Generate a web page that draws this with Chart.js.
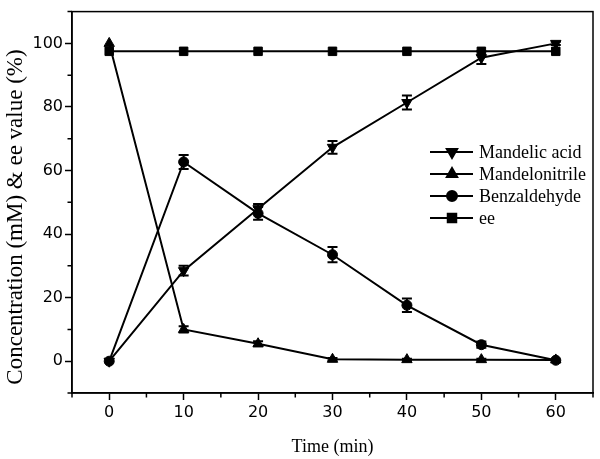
<!DOCTYPE html>
<html>
<head>
<meta charset="utf-8">
<script src="https://cdn.jsdelivr.net/npm/chart.js@4.4.0/dist/chart.umd.min.js"></script>
<style>
html,body{margin:0;padding:0;background:#fff;}
#wrap{width:600px;height:459px;position:relative;}
</style>
</head>
<body>
<div id="wrap"><canvas id="c" width="600" height="459"></canvas></div>
<script>
const times = [0, 10, 20, 30, 40, 50, 60];
const mandelicAcid = [0, 28.5, 48, 67.3, 81.4, 95.5, 100];
const mandelicAcidErr = [0, 1.5, 1.5, 2, 2.2, 2, 0.5];
const mandelonitrile = [100, 10, 5.5, 0.6, 0.5, 0.5, 0.4];
const mandelonitrileErr = [0, 1, 0.8, 0.4, 0.3, 0.3, 0];
const benzaldehyde = [0, 62.7, 46.5, 33.5, 17.6, 5.2, 0.3];
const benzaldehydeErr = [0, 2.2, 2, 2.4, 2.1, 1, 0];
const eeValue = [97.5, 97.5, 97.5, 97.5, 97.5, 97.5, 97.5];
const eeErr = [0, 0, 0, 0, 0, 0, 0];
const seriesNames = ['Mandelic acid', 'Mandelonitrile', 'Benzaldehyde', 'ee'];
const xTicks = [0, 10, 20, 30, 40, 50, 60];
const xMinorTicks = [-5, 5, 15, 25, 35, 45, 55, 65];
const yTicks = [0, 20, 40, 60, 80, 100];
const yMinorTicks = [-10, 10, 30, 50, 70, 90, 110];
const xTitle = 'Time (min)';
const yTitle = 'Concentration (mM) & ee value (%)';

const pts = arr => times.map((t, i) => ({x: t, y: arr[i]}));
const mk = (label, arr, err, style, rot, r) => ({
  label, data: pts(arr), errs: err,
  borderColor: '#000', backgroundColor: '#000', borderWidth: 2,
  pointStyle: style, rotation: rot, pointRadius: r, pointHoverRadius: r,
  pointBorderColor: '#000', pointBackgroundColor: '#000', pointBorderWidth: 1,
  tension: 0, fill: false
});

const datasets = [
  mk(seriesNames[0], mandelicAcid, mandelicAcidErr, 'triangle', 180, 6),
  mk(seriesNames[1], mandelonitrile, mandelonitrileErr, 'triangle', 0, 6),
  mk(seriesNames[2], benzaldehyde, benzaldehydeErr, 'circle', 0, 5),
  mk(seriesNames[3], eeValue, eeErr, 'rect', 0, 6)
];

const extras = {
  id: 'extras',
  afterDatasetsDraw(chart) {
    const ctx = chart.ctx;
    const xs = chart.scales.x, ys = chart.scales.y;
    ctx.save();
    ctx.strokeStyle = '#000';
    ctx.lineWidth = 2;
    chart.data.datasets.forEach(ds => {
      ds.data.forEach((p, i) => {
        const e = ds.errs[i];
        if (!e) return;
        const px = xs.getPixelForValue(p.x);
        const y1 = ys.getPixelForValue(p.y - e), y2 = ys.getPixelForValue(p.y + e);
        ctx.beginPath();
        ctx.moveTo(px, y1); ctx.lineTo(px, y2);
        ctx.moveTo(px - 5, y1); ctx.lineTo(px + 5, y1);
        ctx.moveTo(px - 5, y2); ctx.lineTo(px + 5, y2);
        ctx.stroke();
      });
    });
    const a = chart.chartArea;
    ctx.lineWidth = 1.5;
    ctx.strokeRect(a.left, a.top, a.right - a.left, a.bottom - a.top);
    ctx.beginPath();
    xMinorTicks.forEach(v => {
      const px = xs.getPixelForValue(v);
      ctx.moveTo(px, a.bottom); ctx.lineTo(px, a.bottom + 4.5);
    });
    yMinorTicks.forEach(v => {
      const py = ys.getPixelForValue(v);
      ctx.moveTo(a.left, py); ctx.lineTo(a.left - 4.5, py);
    });
    ctx.stroke();
    // axis titles
    ctx.fillStyle = '#000';
    ctx.textAlign = 'center';
    ctx.textBaseline = 'middle';
    ctx.font = '18px "Liberation Serif", "Times New Roman", serif';
    ctx.fillText(xTitle, (a.left + a.right) / 2, 447);
    ctx.save();
    ctx.translate(16, 217);
    ctx.rotate(-Math.PI / 2);
    ctx.font = '23px "Liberation Serif", "Times New Roman", serif';
    ctx.fillText(yTitle, 0, 0);
    ctx.restore();
    // legend
    const lx = 430, ly = 152, dy = 22;
    ctx.font = '18px "Liberation Serif", "Times New Roman", serif';
    ctx.textAlign = 'left';
    chart.data.datasets.forEach((ds, i) => {
      const y = ly + i * dy;
      ctx.beginPath();
      ctx.lineWidth = 2;
      ctx.moveTo(lx, y); ctx.lineTo(lx + 43, y);
      ctx.stroke();
      Chart.helpers.drawPoint(ctx, {pointStyle: ds.pointStyle, rotation: ds.rotation, radius: ds.pointRadius, borderWidth: 1}, lx + 22, y);
      ctx.fill();
      ctx.fillText(ds.label, lx + 49, y + 1);
    });
    ctx.restore();
  }
};

new Chart(document.getElementById('c'), {
  type: 'line',
  data: { datasets },
  plugins: [extras],
  options: {
    responsive: false,
    animation: false,
    devicePixelRatio: 1,
    layout: { padding: { top: 3, right: 5, left: 0, bottom: 0 } },
    plugins: { legend: { display: false }, tooltip: { enabled: false } },
    scales: {
      x: {
        type: 'linear', min: -5, max: 65,
        afterBuildTicks: s => { s.ticks = xTicks.map(v => ({value: v})); },
        afterFit: s => { s.height = 66; },
        grid: { drawOnChartArea: false, drawTicks: true, tickLength: 7, tickWidth: 1.5, tickColor: '#000' },
        border: { display: true, color: '#000', width: 1.5 },
        ticks: { color: '#000', padding: 3, maxRotation: 0, font: { family: 'DejaVu Sans', size: 16 } },
        title: { display: false }
      },
      y: {
        type: 'linear', min: -10, max: 110,
        afterBuildTicks: s => { s.ticks = yTicks.map(v => ({value: v})); },
        afterFit: s => { s.width = 72; },
        grid: { drawOnChartArea: false, drawTicks: true, tickLength: 7, tickWidth: 1.5, tickColor: '#000' },
        border: { display: true, color: '#000', width: 1.5 },
        ticks: { color: '#000', padding: 2, font: { family: 'DejaVu Sans', size: 16 } },
        title: { display: false }
      }
    }
  }
});
</script>
</body>
</html>
